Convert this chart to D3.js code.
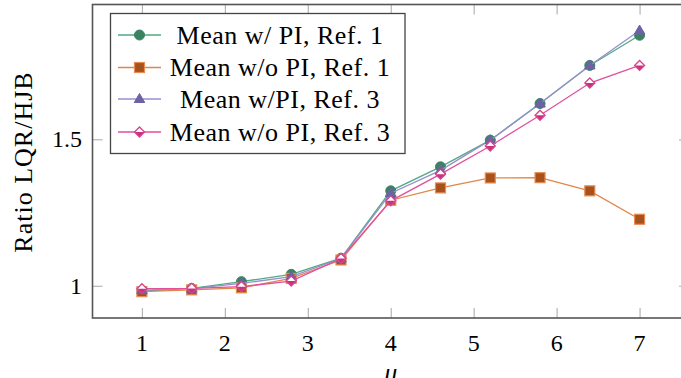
<!DOCTYPE html>
<html>
<head>
<meta charset="utf-8">
<script src="https://cdn.jsdelivr.net/npm/d3@7"></script>
<style>
  body { margin: 0; background: #fff; }
  text { font-family: "Liberation Serif", "DejaVu Serif", serif; }
</style>
</head>
<body>
<svg width="681" height="378"></svg>
<script>
// data
var muValues = [1, 1.6, 2.2, 2.8, 3.4, 4, 4.6, 5.2, 5.8, 6.4, 7];
var withPIRef1 = [0.982, 0.991, 1.014, 1.039, 1.094, 1.324, 1.406, 1.497, 1.622, 1.752, 1.855];
var withoutPIRef1 = [0.980, 0.986, 0.993, 1.025, 1.088, 1.292, 1.334, 1.368, 1.369, 1.324, 1.227];
var withPIRef3 = [0.985, 0.990, 1.008, 1.031, 1.093, 1.316, 1.394, 1.497, 1.622, 1.752, 1.871];
var withoutPIRef3 = [0.990, 0.991, 0.997, 1.016, 1.093, 1.290, 1.381, 1.477, 1.582, 1.692, 1.752];
var xTicks = [1, 2, 3, 4, 5, 6, 7];
var yTicks = [1, 1.5];
var seriesNames = ["Mean w/ PI, Ref. 1", "Mean w/o PI, Ref. 1", "Mean w/PI, Ref. 3", "Mean w/o PI, Ref. 3"];

var series = [
  {name: seriesNames[0], values: withPIRef1, mark: "circle", line: "#52a985", fill: "#3b8262", stroke: "#3b8262"},
  {name: seriesNames[1], values: withoutPIRef1, mark: "square", line: "#e2854a", fill: "#a9511b", stroke: "#e58d55"},
  {name: seriesNames[2], values: withPIRef3, mark: "triangle", line: "#9690cc", fill: "#6b63a5", stroke: "#6b63a5"},
  {name: seriesNames[3], values: withoutPIRef3, mark: "diamond", line: "#e2509c", fill: "#c8327f", stroke: "#d8418d"}
];

var svg = d3.select("svg");
// plot box (not named top/left: window.top is read only)
var plotL = 92.5, plotR = 689, plotT = 4.5, plotB = 318;

var x = d3.scaleLinear().domain([0.404, 7.596]).range([plotL, plotR]);
var y = d3.scaleLinear().domain([0.89, 1.96]).range([plotB, plotT]);

// tick marks (grey, mirrored on every side, pointing inwards)
var tickColor = "#b5b5b5";
svg.append("g").attr("transform", "translate(0," + plotB + ")")
  .call(d3.axisBottom(x).tickValues(xTicks).tickSize(-10).tickFormat(""));
svg.append("g").attr("transform", "translate(0," + plotT + ")")
  .call(d3.axisTop(x).tickValues(xTicks).tickSize(-10).tickFormat(""));
svg.append("g").attr("transform", "translate(" + plotL + ",0)")
  .call(d3.axisLeft(y).tickValues(yTicks).tickSize(-10).tickFormat(""));
svg.append("g").attr("transform", "translate(" + plotR + ",0)")
  .call(d3.axisRight(y).tickValues(yTicks).tickSize(-10).tickFormat(""));
svg.selectAll(".domain").remove();
svg.selectAll(".tick line").attr("stroke", tickColor).attr("stroke-width", 1.2);

// frame
svg.append("rect").attr("x", plotL).attr("y", plotT)
  .attr("width", plotR - plotL).attr("height", plotB - plotT)
  .attr("fill", "none").attr("stroke", "#555").attr("stroke-width", 1.6);

// tick labels
svg.append("g").selectAll("text").data(xTicks).enter().append("text")
  .attr("x", function(d) { return x(d); }).attr("y", 351)
  .attr("text-anchor", "middle").attr("font-size", 24)
  .text(function(d) { return d; });

svg.append("g").selectAll("text").data(yTicks).enter().append("text")
  .attr("x", 82).attr("y", function(d) { return y(d) + 8; })
  .attr("text-anchor", "end").attr("font-size", 24)
  .text(function(d) { return d; });

// axis labels
svg.append("text").attr("transform", "translate(32,162) rotate(-90)")
  .attr("text-anchor", "middle").attr("font-size", 26).attr("letter-spacing", 1).text("Ratio LQR/HJB");
svg.append("text").attr("x", x(4)).attr("y", 381)
  .attr("text-anchor", "middle").attr("font-size", 26).attr("font-style", "italic").text("μ");

function drawMark(g, s, size) {
  var r = size / 2;
  if (s.mark === "circle") {
    g.append("circle").attr("r", r).attr("fill", s.fill).attr("stroke", s.stroke).attr("stroke-width", 1);
  } else if (s.mark === "square") {
    g.append("rect").attr("x", -r).attr("y", -r).attr("width", size).attr("height", size)
      .attr("fill", s.fill).attr("stroke", s.stroke).attr("stroke-width", 1.2);
  } else if (s.mark === "triangle") {
    g.append("path").attr("d", "M0," + (-r * 1.1) + "L" + (r * 1.05) + "," + (r * 0.7) + "L" + (-r * 1.05) + "," + (r * 0.7) + "Z")
      .attr("fill", s.fill).attr("stroke", s.stroke).attr("stroke-width", 1);
  } else {
    // half filled diamond: white top, coloured bottom
    g.append("path").attr("d", "M0," + (-r) + "L" + r + ",0L0," + r + "L" + (-r) + ",0Z").attr("fill", "#fff");
    g.append("path").attr("d", "M" + (-r) + ",0L" + r + ",0L0," + r + "Z").attr("fill", s.fill);
    g.append("path").attr("d", "M0," + (-r) + "L" + r + ",0L0," + r + "L" + (-r) + ",0Z")
      .attr("fill", "none").attr("stroke", s.stroke).attr("stroke-width", 1.3);
  }
}

var line = d3.line()
  .x(function(d, i) { return x(muValues[i]); })
  .y(function(d) { return y(d); });

series.forEach(function(s) {
  svg.append("path").datum(s.values).attr("d", line)
    .attr("fill", "none").attr("stroke", s.line).attr("stroke-width", 1.3);
  svg.append("g").selectAll("g").data(s.values).enter().append("g")
    .attr("transform", function(d, i) { return "translate(" + x(muValues[i]) + "," + y(d) + ")"; })
    .each(function() { drawMark(d3.select(this), s, 10); });
});

// legend
var legend = svg.append("g");
legend.append("rect").attr("x", 110.5).attr("y", 13.5).attr("width", 294.5).attr("height", 140)
  .attr("fill", "#fff").attr("stroke", "#444").attr("stroke-width", 1.3);
var rowY = [35, 67.5, 99, 132];
series.forEach(function(s, i) {
  var row = legend.append("g").attr("transform", "translate(0," + rowY[i] + ")");
  row.append("line").attr("x1", 118).attr("x2", 161).attr("stroke", s.line).attr("stroke-width", 1.3);
  drawMark(row.append("g").attr("transform", "translate(139.5,0)"), s, 10);
  row.append("text").attr("x", 280).attr("y", 8.5).attr("text-anchor", "middle")
    .attr("font-size", 26).attr("letter-spacing", 0.5).text(s.name);
});
</script>
</body>
</html>
